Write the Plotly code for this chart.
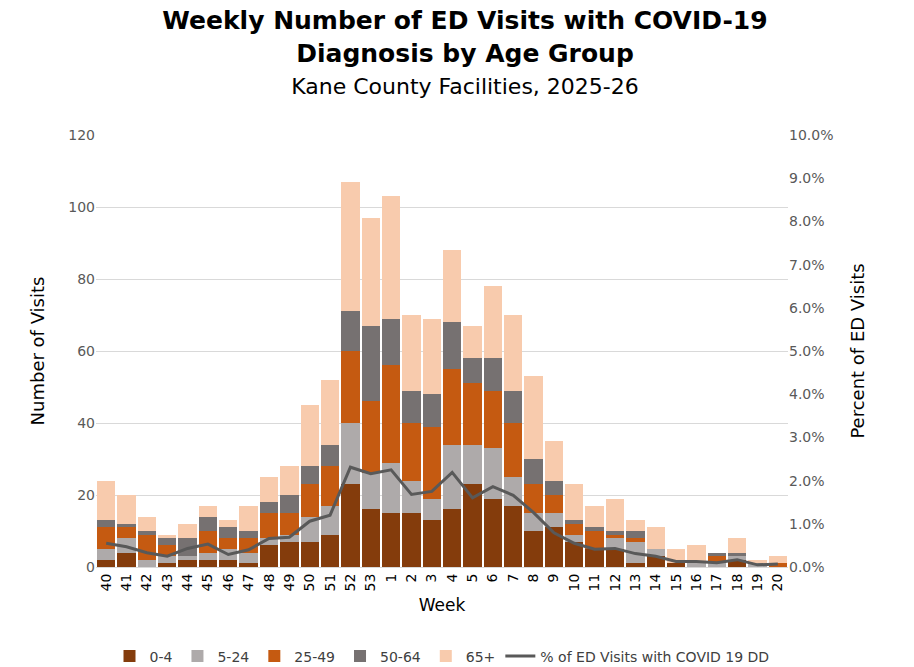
import plotly.graph_objects as go

WEEKS = ["40", "41", "42", "43", "44", "45", "46", "47", "48", "49", "50", "51", "52", "53",
         "1", "2", "3", "4", "5", "6", "7", "8", "9", "10", "11", "12", "13", "14", "15",
         "16", "17", "18", "19", "20"]
AGE_0_4 = [2, 4, 0, 1, 2, 2, 2, 1, 6, 7, 7, 9, 23, 16, 15, 15, 13, 16, 23, 19, 17, 10, 11,
           7, 5, 5, 1, 3, 1, 0, 0, 2, 0, 0]
AGE_5_24 = [3, 4, 2, 2, 1, 2, 3, 3, 2, 2, 7, 8, 17, 10, 14, 9, 6, 18, 11, 14, 8, 5, 4,
            2, 0, 3, 6, 2, 0, 1, 1, 1, 1, 0]
AGE_25_49 = [6, 3, 7, 3, 0, 6, 3, 4, 7, 6, 9, 11, 20, 20, 27, 16, 20, 21, 17, 16, 15, 8, 5,
             3, 5, 1, 1, 0, 0, 0, 2, 0, 0, 1]
AGE_50_64 = [2, 1, 1, 2, 5, 4, 3, 2, 3, 5, 5, 6, 11, 21, 13, 9, 9, 13, 7, 9, 9, 7, 4,
             1, 1, 1, 2, 0, 0, 0, 1, 1, 0, 0]
AGE_65_UP = [11, 8, 4, 1, 4, 3, 2, 7, 7, 8, 17, 18, 36, 30, 34, 21, 21, 20, 9, 20, 21, 23, 11,
             10, 6, 9, 3, 6, 4, 5, 0, 4, 1, 2]
PCT_COVID = [0.55, 0.47, 0.33, 0.25, 0.43, 0.53, 0.29, 0.40, 0.66, 0.69, 1.06, 1.20, 2.31, 2.16,
             2.25, 1.68, 1.75, 2.19, 1.60, 1.86, 1.66, 1.26, 0.79, 0.55, 0.41, 0.43, 0.31,
             0.25, 0.13, 0.13, 0.10, 0.17, 0.05, 0.07]

SERIES = [
    ("0-4", AGE_0_4, "#843C0C"),
    ("5-24", AGE_5_24, "#AEAAAA"),
    ("25-49", AGE_25_49, "#C55A11"),
    ("50-64", AGE_50_64, "#767171"),
    ("65+", AGE_65_UP, "#F8CBAD"),
]

FONT = "DejaVu Sans, Verdana, sans-serif"

fig = go.Figure()
for name, values, color in SERIES:
    fig.add_trace(go.Bar(x=WEEKS, y=values, name=name, marker={"color": color, "line": {"width": 0}}))
fig.add_trace(
    go.Scatter(
        x=WEEKS,
        y=[p / 100 for p in PCT_COVID],
        name="% of ED Visits with COVID 19 DD",
        mode="lines",
        line={"color": "#595959", "width": 3},
        yaxis="y2",
    )
)

fig.update_layout(
    width=914,
    height=667,
    barmode="stack",
    bargap=0.1,
    plot_bgcolor="white",
    paper_bgcolor="white",
    font={"family": FONT, "color": "#000000", "size": 14},
    title={
        "text": "<b>Weekly Number of ED Visits with COVID-19<br>Diagnosis by Age Group</b>"
                "<br><span style='font-size:22px'>Kane County Facilities, 2025-26</span>",
        "x": 0.5,
        "xanchor": "center",
        "y": 0.968,
        "yanchor": "top",
        "font": {"size": 25, "family": FONT},
    },
    margin={"l": 88, "r": 134, "t": 127, "b": 108, "autoexpand": False},
    xaxis={
        "type": "category",
        "tickangle": -90,
        "title": {"text": "Week", "font": {"size": 17}, "standoff": 8},
        "tickfont": {"size": 14},
        "showline": True,
        "linecolor": "#d9d9d9",
        "ticks": "",
    },
    yaxis={
        "range": [0, 120],
        "dtick": 20,
        "title": {"text": "Number of Visits", "font": {"size": 18}, "standoff": 18},
        "gridcolor": "#d9d9d9",
        "tickfont": {"size": 14, "color": "#595959"},
        "zeroline": False,
    },
    yaxis2={
        "range": [0, 0.10],
        "dtick": 0.01,
        "tickformat": ".1%",
        "overlaying": "y",
        "side": "right",
        "showgrid": False,
        "title": {"text": "Percent of ED Visits", "font": {"size": 18}, "standoff": 18},
        "tickfont": {"size": 14, "color": "#595959"},
    },
    legend={
        "orientation": "h",
        "x": 0.5,
        "xanchor": "center",
        "y": -0.17,
        "yanchor": "top",
        "font": {"size": 14, "color": "#404040"},
        "traceorder": "normal",
    },
)

fig.write_html("out.html")
